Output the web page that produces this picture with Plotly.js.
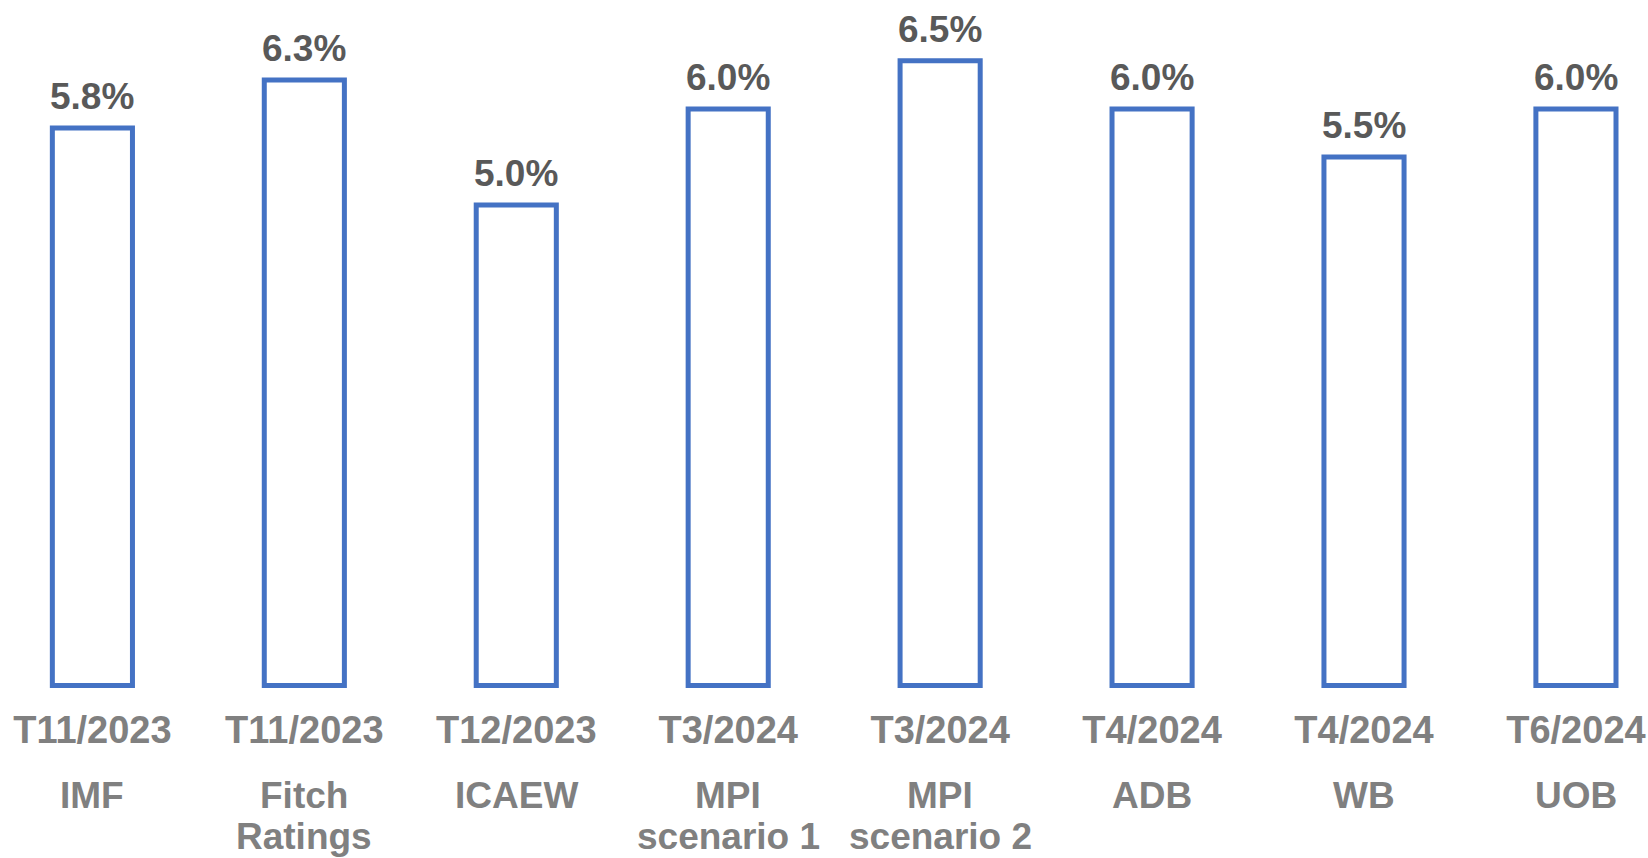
<!DOCTYPE html>
<html>
<head>
<meta charset="utf-8">
<script src="https://cdn.plot.ly/plotly-3.0.1.min.js"></script>
<style>html,body{margin:0;padding:0;background:#fff;}#chart{width:1648px;height:858px;}</style>
</head>
<body>
<div id="chart"></div>
<script>
const dates = ["T11/2023", "T11/2023", "T12/2023", "T3/2024", "T3/2024", "T4/2024", "T4/2024", "T6/2024"];
const sources = ["IMF", "Fitch<br>Ratings", "ICAEW", "MPI<br>scenario 1", "MPI<br>scenario 2", "ADB", "WB", "UOB"];
const growth = [5.8, 6.3, 5.0, 6.0, 6.5, 6.0, 5.5, 6.0];

const idx = growth.map((_, i) => i);
const FONT = "Liberation Sans, Arial, sans-serif";

const annotations = [];
growth.forEach((v, i) => {
  annotations.push({
    x: i, y: v, xref: "x", yref: "y",
    text: "<b>" + v.toFixed(1) + "%</b>",
    showarrow: false, yanchor: "bottom", yshift: 9,
    font: {family: FONT, size: 37, color: "#595959"}
  });
});
sources.forEach((s, i) => {
  s.split("<br>").forEach((line, j) => {
    annotations.push({
      x: i, y: 0, xref: "x", yref: "paper",
      text: "<b>" + line + "</b>",
      showarrow: false, yanchor: "middle",
      yshift: -107 - j * 41,
      font: {family: FONT, size: 37, color: "#808080"}
    });
  });
});

const trace = {
  type: "bar",
  x: idx,
  y: growth,
  width: 0.378,
  marker: {color: "rgba(255,255,255,0)", line: {color: "#4472C4", width: 5}},
  hoverinfo: "skip"
};

const layout = {
  width: 1648, height: 858,
  margin: {l: 0, r: 0, t: 0, b: 170, pad: 0},
  paper_bgcolor: "#fff", plot_bgcolor: "#fff",
  showlegend: false,
  xaxis: {
    range: [-0.436, 7.34],
    tickmode: "array", tickvals: idx, ticktext: dates.map(d => "<b>" + d + "</b>"),
    tickfont: {family: FONT, size: 38, color: "#808080"},
    ticks: "", showgrid: false, zeroline: false, showline: false,
    ticklabelstandoff: 16
  },
  yaxis: {
    range: [-0.026, 7.133],
    visible: false, showgrid: false, zeroline: false
  },
  annotations: annotations
};

Plotly.newPlot("chart", [trace], layout, {displayModeBar: false, staticPlot: true});
</script>
</body>
</html>
